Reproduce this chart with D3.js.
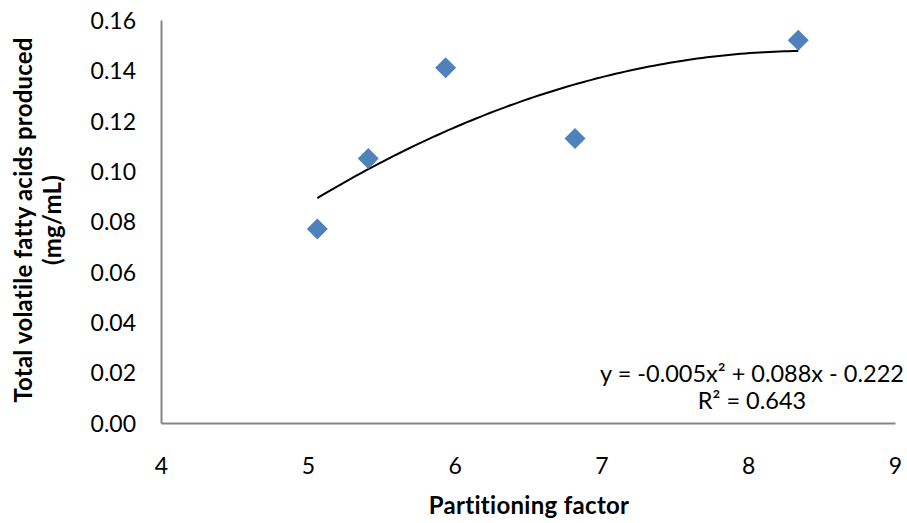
<!DOCTYPE html>
<html>
<head>
<meta charset="utf-8">
<script src="https://cdn.jsdelivr.net/npm/d3@7"></script>
<style>
  body { margin: 0; background: #fff; }
  text { font-family: Lato, "Open Sans", sans-serif; fill: #000; }
</style>
</head>
<body>
<svg id="chart" width="907" height="523"></svg>
<script>
// partitioning factor vs total VFA
const factor = [5.065, 5.412, 5.939, 6.820, 8.341]
const vfa = [0.077, 0.105, 0.141, 0.113, 0.152]

const x_ticks = [4, 5, 6, 7, 8, 9]
const y_ticks = [0, 0.02, 0.04, 0.06, 0.08, 0.10, 0.12, 0.14, 0.16]
const eq_lines = ["y = -0.005x\u00b2 + 0.088x - 0.222", "R\u00b2 = 0.643"]

// least squares fit of a quadratic, same as the excel trendline
function fit_quad(xs, ys) {
  let s = [0, 0, 0, 0, 0], t = [0, 0, 0]
  for (let i = 0; i < xs.length; i++) {
    for (let k = 0; k < 5; k++) s[k] += Math.pow(xs[i], k)
    for (let k = 0; k < 3; k++) t[k] += ys[i] * Math.pow(xs[i], k)
  }
  let m = [[s[0], s[1], s[2], t[0]], [s[1], s[2], s[3], t[1]], [s[2], s[3], s[4], t[2]]]
  for (let c = 0; c < 3; c++) {
    for (let r = c + 1; r < 3; r++) {
      let f = m[r][c] / m[c][c]
      for (let k = c; k < 4; k++) m[r][k] -= f * m[c][k]
    }
  }
  let coef = [0, 0, 0]
  for (let r = 2; r >= 0; r--) {
    let v = m[r][3]
    for (let k = r + 1; k < 3; k++) v -= m[r][k] * coef[k]
    coef[r] = v / m[r][r]
  }
  return coef
}

let svg = d3.select("#chart")

let x = d3.scaleLinear().domain([4, 9]).range([161, 895])
let y = d3.scaleLinear().domain([0, 0.16]).range([423, 20])

// axes lines only, no ticks
let x_axis = d3.axisBottom(x).tickValues(x_ticks).tickSize(0).tickPadding(0).tickFormat(d3.format("d"))
let gx = svg.append("g").attr("transform", "translate(0,423)").call(x_axis)
gx.select(".domain").attr("stroke", "#868686").attr("stroke-width", 2)
gx.selectAll("text").attr("font-size", 23).attr("dy", null).attr("y", 51)

let y_axis = d3.axisLeft(y).tickValues(y_ticks).tickSize(0).tickPadding(25).tickFormat(d3.format(".2f"))
let gy = svg.append("g").attr("transform", "translate(161,0)").call(y_axis)
gy.select(".domain").attr("stroke", "#868686").attr("stroke-width", 2)
gy.selectAll("text").attr("font-size", 23).attr("dy", "0.36em")

// trendline
let coef = fit_quad(factor, vfa)
let xs = d3.range(0, 101).map(i => factor[0] + (factor[factor.length - 1] - factor[0]) * i / 100)
let line = d3.line()
  .x(d => x(d))
  .y(d => y(coef[0] + coef[1] * d + coef[2] * d * d))
svg.append("path")
  .attr("d", line(xs))
  .attr("fill", "none")
  .attr("stroke", "#000")
  .attr("stroke-width", 2)

// diamond markers
svg.append("g")
  .selectAll("path")
  .data(factor.map((d, i) => [d, vfa[i]]))
  .enter()
  .append("path")
  .attr("d", "M0,-10.5L10.5,0L0,10.5L-10.5,0Z")
  .attr("transform", d => `translate(${x(d[0])},${y(d[1])})`)
  .attr("fill", "#4F81BD")

// equation
svg.append("g")
  .selectAll("text")
  .data(eq_lines).enter()
  .append("text")
  .attr("x", 752)
  .attr("y", (d, i) => 382 + i * 27)
  .attr("text-anchor", "middle")
  .attr("font-size", 23.5)
  .text(d => d)

// axis titles
svg.append("text")
  .attr("x", 529).attr("y", 514)
  .attr("text-anchor", "middle")
  .attr("font-size", 24).attr("font-weight", "bold")
  .attr("letter-spacing", 0.3)
  .text("Partitioning factor")

let ytitle = svg.append("text")
  .attr("transform", "translate(32,220) rotate(-90)")
  .attr("text-anchor", "middle")
  .attr("font-size", 24).attr("font-weight", "bold")
  .attr("letter-spacing", 0.2)
ytitle.append("tspan").attr("x", 0).attr("y", 0).text("Total volatile fatty acids produced")
ytitle.append("tspan").attr("x", 0).attr("y", 29).text("(mg/mL)")
</script>
</body>
</html>
